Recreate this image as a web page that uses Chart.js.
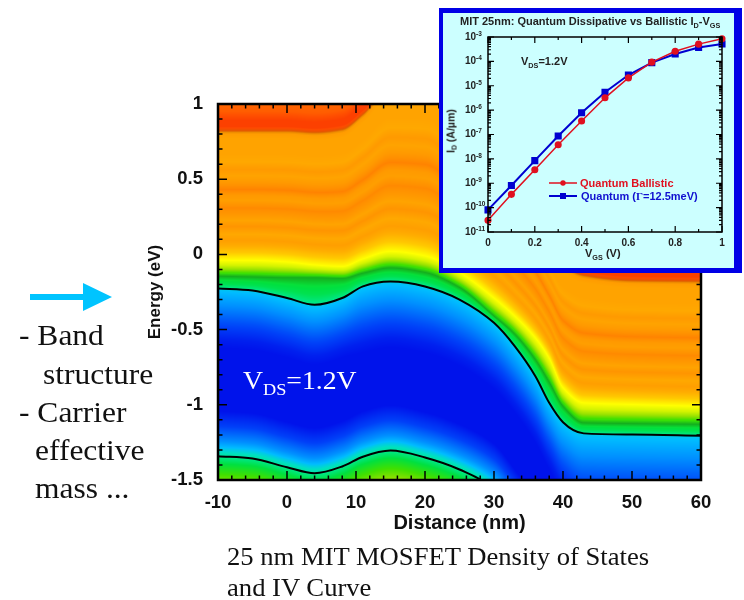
<!DOCTYPE html>
<html>
<head>
<meta charset="utf-8">
<title>25 nm MIT MOSFET Density of States and IV Curve</title>
<script src="https://cdn.jsdelivr.net/npm/chart.js@4"></script>
<style>
  html, body { margin: 0; padding: 0; background: #fff; }
  #page { position: relative; width: 744px; height: 600px; overflow: hidden; }
  #page div, #page svg, #page canvas { position: absolute; }
  .serif { font-family: "Liberation Serif", serif; color: #111; white-space: nowrap; transform-origin: left center; }
  .side { font-size: 30px; transform: scaleX(1.05); }
  .caption { font-size: 25px; transform: scaleX(1.065); }
  .sans { font-family: "Liberation Sans", sans-serif; font-weight: bold; color: #222; white-space: nowrap; line-height: 1; }
  sub { font-size: 66%; vertical-align: baseline; position: relative; top: 0.35em; }
  #inset { left: 439px; top: 8px; width: 291px; height: 255px; background: #ccffff;
           border-style: solid; border-color: #0000e6; border-width: 5px 8px 5px 4px; }
</style>
</head>
<body>
<div id="page">
  <canvas id="bandChart" width="744" height="600" style="left:0;top:0"></canvas>

  <svg style="left:28px;top:280px" width="90" height="34">
    <polygon points="2,14 55,14 55,3 84,17 55,31 55,20 2,20" fill="#00c4ff"/>
  </svg>

  <div class="serif side" style="left:19px;top:318px">- Band</div>
  <div class="serif side" style="left:43px;top:357px">structure</div>
  <div class="serif side" style="left:19px;top:395px">- Carrier</div>
  <div class="serif side" style="left:35px;top:433px">effective</div>
  <div class="serif side" style="left:35px;top:471px">mass ...</div>

  <div class="serif" style="left:243px;top:366px;font-size:26px;color:#fff;transform:scaleX(1.065)">V<sub>DS</sub>=1.2V</div>

  <div class="serif caption" style="left:227px;top:543px">25 nm MIT MOSFET Density of States</div>
  <div class="serif caption" style="left:227px;top:574px">and IV Curve</div>

  <div id="inset">
    <canvas id="ivChart" width="291" height="255" style="left:0;top:0"></canvas>
    <div class="sans" style="left:17px;top:3px;font-size:11px">MIT 25nm: Quantum Dissipative vs Ballistic I<sub>D</sub>-V<sub>GS</sub></div>
    <div class="sans" style="left:78px;top:43px;font-size:11px">V<sub>DS</sub>=1.2V</div>
    <div class="sans" style="left:137px;top:165px;font-size:11px;color:#e01020">Quantum Ballistic</div>
    <div class="sans" style="left:138px;top:178px;font-size:11px;color:#1010d0">Quantum (<span style="font-family:'Liberation Serif'">&Gamma;</span>=12.5meV)</div>
    <div class="sans" style="left:142px;top:235px;font-size:11px">V<sub>GS</sub> (V)</div>
    <div class="sans" style="left:8px;top:118px;font-size:10.5px;transform:translate(-50%,-50%) rotate(-90deg);transform-origin:center">I<sub>D</sub> (A/&micro;m)</div>
  </div>
</div>

<script>
// band diagram (nm, eV)
const distances    = [-10, -5, 0, 4, 8, 11, 15, 20, 25, 30, 33, 36, 38, 40, 43, 50, 60];
const bandEdgeTop  = [-0.226, -0.24, -0.29, -0.335, -0.29, -0.213, -0.18, -0.213, -0.30, -0.455, -0.61, -0.81, -0.987, -1.116, -1.19, -1.198, -1.205];
const bandEdgeLow  = [-1.342, -1.357, -1.415, -1.455, -1.41, -1.345, -1.304, -1.35, -1.43, -1.56, -1.73, -1.93, -2.1, -2.24, -2.31, -2.32, -2.33];
const greenRidge   = [-0.145, -0.15, -0.155, -0.155, -0.16, -0.125, -0.09, -0.12, -0.22, -0.41, -0.53, -0.70, -0.85, -1.01, -1.12, -1.125, -1.13];
const yellowRidge  = [-0.04, -0.04, -0.05, -0.07, -0.08, -0.03, 0.02, -0.01, -0.12, -0.29, -0.41, -0.555, -0.69, -0.886, -0.987, -0.998, -1.01];
const redRidge     = [0.82, 0.82, 0.82, 0.81, 0.83, 0.93, 1.1, 1.1, 0.9, 0.65, 0.45, 0.25, 0.07, -0.07, -0.14, -0.175, -0.18];
const glowDepth    = [0.45, 0.45, 0.45, 0.45, 0.45, 0.5, 0.5, 0.5, 0.5, 0.5, 0.5, 0.5, 0.5, 0.55, 0.6, 0.6, 0.6];

// density of states level against position above the conduction band
const aboveOffsets = [0, 0.03, 0.08, 0.11, 0.14, 0.17, 0.21, 0.26, 0.30, 0.34, 0.38, 0.43, 0.47, 0.50, 0.55, 0.60, 0.63, 0.67, 0.72, 0.76, 0.80, 0.85, 0.90, 1.00, 1.04, 1.055, 1.08, 1.12, 1.18, 1.25, 1.40];
const aboveLevels  = [0.40, 0.44, 0.47, 0.50, 0.56, 0.61, 0.65, 0.70, 0.74, 0.77, 0.75, 0.79, 0.76, 0.78, 0.81, 0.77, 0.78, 0.82, 0.78, 0.76, 0.78, 0.75, 0.76, 0.76, 0.78, 0.88, 0.93, 0.93, 0.88, 0.86, 0.85];
const belowDepths  = [0, 0.1, 0.25, 0.5, 0.75, 1, 2];
const belowLevels  = [0.30, 0.26, 0.20, 0.12, 0.05, 0.01, 0];
const overLowHeights = [0, 0.05, 0.10, 0.20, 0.30];
const overLowLevels  = [0.38, 0.30, 0.20, 0.10, 0.03];
const underLowDepths = [0, 0.05, 0.12, 0.20];
const underLowLevels = [0.40, 0.45, 0.50, 0.56];

// I-V curves
const gateVoltages = [0, 0.1, 0.2, 0.3, 0.4, 0.5, 0.6, 0.7, 0.8, 0.9, 1];
const ballisticCurrent = [3.0e-11, 3.5e-10, 3.6e-9, 3.8e-8, 3.6e-7, 3.2e-6, 2.1e-5, 9.3e-5, 2.6e-4, 5.1e-4, 8.5e-4];
const quantumCurrent   = [8.1e-11, 8.1e-10, 8.5e-9, 8.7e-8, 7.8e-7, 5.4e-6, 2.75e-5, 8.9e-5, 2.0e-4, 3.7e-4, 5.2e-4];

// tick labels and positions
const distanceMajor = [-10, 0, 10, 20, 30, 40, 50, 60];
const distanceMinor = [-8, -6, -4, -2, 2, 4, 6, 8, 12, 14, 16, 18, 22, 24, 26, 28, 32, 34, 36, 38, 42, 44, 46, 48, 52, 54, 56, 58];
const energyMajor = [-1.5, -1, -0.5, 0, 0.5, 1];
const energyMinor = [-1.4, -1.3, -1.2, -1.1, -0.9, -0.8, -0.7, -0.6, -0.4, -0.3, -0.2, -0.1, 0.1, 0.2, 0.3, 0.4, 0.6, 0.7, 0.8, 0.9];
const voltageMajor = [0, 0.2, 0.4, 0.6, 0.8, 1];
const voltageMinor = [0.1, 0.3, 0.5, 0.7, 0.9];
const decades = [-11, -10, -9, -8, -7, -6, -5, -4, -3];

// colour map for the levels
const colorLevels = [0, 0.1, 0.2, 0.28, 0.34, 0.40, 0.45, 0.50, 0.55, 0.60, 0.65, 0.70, 0.75, 0.80, 0.85, 0.90, 0.96];
const colorValues = [[0,0,230],[0,64,248],[0,144,255],[0,188,255],[0,224,192],[0,232,144],[0,224,64],[64,224,0],[144,224,0],[200,240,0],[255,255,0],[255,200,0],[255,168,0],[255,144,0],[255,112,0],[255,80,0],[248,48,0]];
const shadeOffsets = [0.055, 0.08, 0.105, 1.03, 1.05, 1.07];
const shadeValues  = [1, 0.78, 1, 1, 0.88, 1];

function lookup(keys, vals, t) {
  if (t <= keys[0]) return vals[0];
  for (let i = 1; i < keys.length; i++) {
    if (t <= keys[i]) {
      const f = (t - keys[i - 1]) / (keys[i] - keys[i - 1]);
      return vals[i - 1] + f * (vals[i] - vals[i - 1]);
    }
  }
  return vals[vals.length - 1];
}

// smooth curve through the stations, flat at the turning points
function curve(xs, ys) {
  const n = xs.length;
  const m = [];
  for (let i = 0; i < n; i++) {
    if (i === 0) m.push((ys[1] - ys[0]) / (xs[1] - xs[0]));
    else if (i === n - 1) m.push((ys[i] - ys[i - 1]) / (xs[i] - xs[i - 1]));
    else {
      const a = (ys[i] - ys[i - 1]) / (xs[i] - xs[i - 1]);
      const b = (ys[i + 1] - ys[i]) / (xs[i + 1] - xs[i]);
      m.push(a * b <= 0 ? 0 : 2 * a * b / (a + b));
    }
  }
  return function (x) {
    let i = 0;
    while (i < n - 2 && x > xs[i + 1]) i++;
    const h = xs[i + 1] - xs[i];
    const t = (x - xs[i]) / h;
    const t2 = t * t, t3 = t2 * t;
    return (2 * t3 - 3 * t2 + 1) * ys[i] + (t3 - 2 * t2 + t) * h * m[i] +
           (-2 * t3 + 3 * t2) * ys[i + 1] + (t3 - t2) * h * m[i + 1];
  };
}

const ecAt = curve(distances, bandEdgeTop);
const evAt = curve(distances, bandEdgeLow);
const greenAt = curve(distances, greenRidge);
const yellowAt = curve(distances, yellowRidge);
const redAt = curve(distances, redRidge);
const glowAt = curve(distances, glowDepth);

function colorFor(level, shade, out, k) {
  for (let c = 0; c < 3; c++) {
    out[k + c] = lookup(colorLevels, colorValues.map(v => v[c]), level) * shade;
  }
  out[k + 3] = 255;
}

const densityMap = {
  id: "densityMap",
  beforeDatasetsDraw(chart) {
    const { ctx, chartArea, scales } = chart;
    const left = Math.round(chartArea.left), top = Math.round(chartArea.top);
    const w = Math.round(chartArea.right) - left, h = Math.round(chartArea.bottom) - top;
    const img = ctx.createImageData(w, h);
    for (let i = 0; i < w; i++) {
      const x = scales.x.getValueForPixel(left + i + 0.5);
      const ec = ecAt(x), ev = evAt(x), g = greenAt(x), yl = yellowAt(x), r = redAt(x), glow = glowAt(x);
      for (let j = 0; j < h; j++) {
        const e = scales.y.getValueForPixel(top + j + 0.5);
        let level, shade = 1;
        if (e >= ec) {
          let s;
          if (e < g) s = 0.08 * (e - ec) / (g - ec);
          else if (e < yl) s = 0.08 + 0.13 * (e - g) / (yl - g);
          else if (e < r) s = 0.21 + 0.84 * (e - yl) / (r - yl);
          else s = 1.05 + (e - r);
          level = lookup(aboveOffsets, aboveLevels, s);
          shade = lookup(shadeOffsets, shadeValues, s);
        } else if (e < ev) {
          level = lookup(underLowDepths, underLowLevels, ev - e);
        } else {
          level = Math.max(lookup(belowDepths, belowLevels, (ec - e) / glow),
                           lookup(overLowHeights, overLowLevels, e - ev));
        }
        colorFor(level, shade, img.data, (j * w + i) * 4);
      }
    }
    ctx.putImageData(img, left, top);
  }
};

// ticks point into the plot on all four sides, plus a closed frame
const insideTicks = {
  id: "insideTicks",
  afterDatasetsDraw(chart, args, o) {
    const { ctx, chartArea: a, scales } = chart;
    ctx.save();
    ctx.strokeStyle = "#000";
    ctx.lineWidth = o.tickWidth;
    ctx.beginPath();
    const tick = (vals, len) => {
      vals.x.forEach(v => {
        const p = scales.x.getPixelForValue(v);
        ctx.moveTo(p, a.top); ctx.lineTo(p, a.top + len);
        ctx.moveTo(p, a.bottom); ctx.lineTo(p, a.bottom - len);
      });
      vals.y.forEach(v => {
        const p = scales.y.getPixelForValue(v);
        ctx.moveTo(a.left, p); ctx.lineTo(a.left + len, p);
        ctx.moveTo(a.right, p); ctx.lineTo(a.right - len, p);
      });
    };
    tick(o.major, o.majorLen);
    tick(o.minor, o.minorLen);
    ctx.stroke();
    ctx.lineWidth = o.frameWidth;
    ctx.strokeRect(a.left, a.top, a.right - a.left, a.bottom - a.top);
    ctx.restore();
  }
};

new Chart(document.getElementById("bandChart"), {
  type: "line",
  data: {
    datasets: [
      { data: distances.map((d, i) => ({ x: d, y: bandEdgeTop[i] })) },
      { data: distances.map((d, i) => ({ x: d, y: bandEdgeLow[i] })) }
    ]
  },
  options: {
    responsive: false,
    animation: false,
    layout: { padding: { left: 145, top: 104, right: 43, bottom: 65 } },
    elements: {
      point: { radius: 0 },
      line: { borderColor: "#000", borderWidth: 2, cubicInterpolationMode: "monotone" }
    },
    scales: {
      x: {
        type: "linear", min: -10, max: 60,
        afterFit(s) { s.height = 55; },
        grid: { display: false, drawTicks: false },
        border: { display: false },
        ticks: { stepSize: 10, padding: 12, maxRotation: 0, color: "#111", font: { family: "Liberation Sans", weight: "bold", size: 18.5 } },
        title: { display: true, text: "Distance (nm)", color: "#111", padding: 0, font: { family: "Liberation Sans", weight: "bold", size: 20 } }
      },
      y: {
        type: "linear", min: -1.5, max: 1,
        afterFit(s) { s.width = 73; },
        grid: { display: false, drawTicks: false },
        border: { display: false },
        ticks: { stepSize: 0.5, padding: 15, color: "#111", callback: v => String(v), font: { family: "Liberation Sans", weight: "bold", size: 18.5 } },
        title: { display: true, text: "Energy (eV)", color: "#111", padding: 0, font: { family: "Liberation Sans", weight: "bold", size: 17 } }
      }
    },
    plugins: {
      legend: { display: false },
      tooltip: { enabled: false },
      insideTicks: {
        major: { x: distanceMajor, y: energyMajor },
        minor: { x: distanceMinor, y: energyMinor },
        majorLen: 9, minorLen: 4.5, tickWidth: 1.5, frameWidth: 2.5
      }
    }
  },
  plugins: [densityMap, insideTicks]
});

// superscript part of the 10^n labels
const exponents = {
  id: "exponents",
  afterDraw(chart) {
    const { ctx, scales } = chart;
    ctx.save();
    ctx.fillStyle = "#222";
    ctx.font = "bold 6.5px 'Liberation Sans'";
    ctx.textAlign = "left";
    ctx.textBaseline = "middle";
    decades.forEach(n => {
      ctx.fillText(String(n), scales.y.right - 12, scales.y.getPixelForValue(Math.pow(10, n)) - 3);
    });
    ctx.restore();
  }
};

// legend samples inside the inset
const ivLegend = {
  id: "ivLegend",
  afterDatasetsDraw(chart) {
    const { ctx } = chart;
    ctx.save();
    ctx.strokeStyle = "#e01020";
    ctx.fillStyle = "#e01020";
    ctx.lineWidth = 1.5;
    ctx.beginPath(); ctx.moveTo(106, 170); ctx.lineTo(134, 170); ctx.stroke();
    ctx.beginPath(); ctx.arc(120, 170, 2.7, 0, Math.PI * 2); ctx.fill();
    ctx.strokeStyle = "#0000d0";
    ctx.fillStyle = "#0000d0";
    ctx.lineWidth = 2;
    ctx.beginPath(); ctx.moveTo(106, 183); ctx.lineTo(134, 183); ctx.stroke();
    ctx.fillRect(117, 180, 6, 6);
    ctx.restore();
  }
};

const ivMinor = [];
decades.slice(0, -1).forEach(n => {
  [2, 3, 4, 5, 6, 7, 8, 9].forEach(m => ivMinor.push(m * Math.pow(10, n)));
});

new Chart(document.getElementById("ivChart"), {
  type: "line",
  data: {
    datasets: [
      {
        data: gateVoltages.map((v, i) => ({ x: v, y: ballisticCurrent[i] })),
        borderColor: "#e01020", backgroundColor: "#e01020", borderWidth: 1.5,
        pointStyle: "circle", pointRadius: 2.8, clip: false
      },
      {
        data: gateVoltages.map((v, i) => ({ x: v, y: quantumCurrent[i] })),
        borderColor: "#0000d0", backgroundColor: "#0000d0", borderWidth: 2,
        pointStyle: "rect", pointRadius: 3.6, clip: false
      }
    ]
  },
  options: {
    responsive: false,
    animation: false,
    layout: { padding: { left: 12, top: 24, right: 12, bottom: 16 } },
    scales: {
      x: {
        type: "linear", min: 0, max: 1,
        afterFit(s) { s.height = 20; },
        grid: { display: false, drawTicks: false },
        border: { display: false },
        ticks: { stepSize: 0.2, padding: 5, maxRotation: 0, color: "#222", callback: v => String(v), font: { family: "Liberation Sans", weight: "bold", size: 10 } }
      },
      y: {
        type: "logarithmic", min: 1e-11, max: 1e-3,
        afterFit(s) { s.width = 33; },
        grid: { display: false, drawTicks: false },
        border: { display: false },
        ticks: {
          autoSkip: false, padding: 12, color: "#222",
          font: { family: "Liberation Sans", weight: "bold", size: 10 },
          callback(v) {
            const l = Math.log10(v);
            return Math.abs(l - Math.round(l)) < 1e-6 ? "10" : "";
          }
        }
      }
    },
    plugins: {
      legend: { display: false },
      tooltip: { enabled: false },
      insideTicks: {
        major: { x: voltageMajor, y: decades.map(n => Math.pow(10, n)) },
        minor: { x: voltageMinor, y: ivMinor },
        majorLen: 6, minorLen: 3, tickWidth: 1.2, frameWidth: 1.5
      }
    }
  },
  plugins: [insideTicks, exponents, ivLegend]
});
</script>
</body>
</html>
